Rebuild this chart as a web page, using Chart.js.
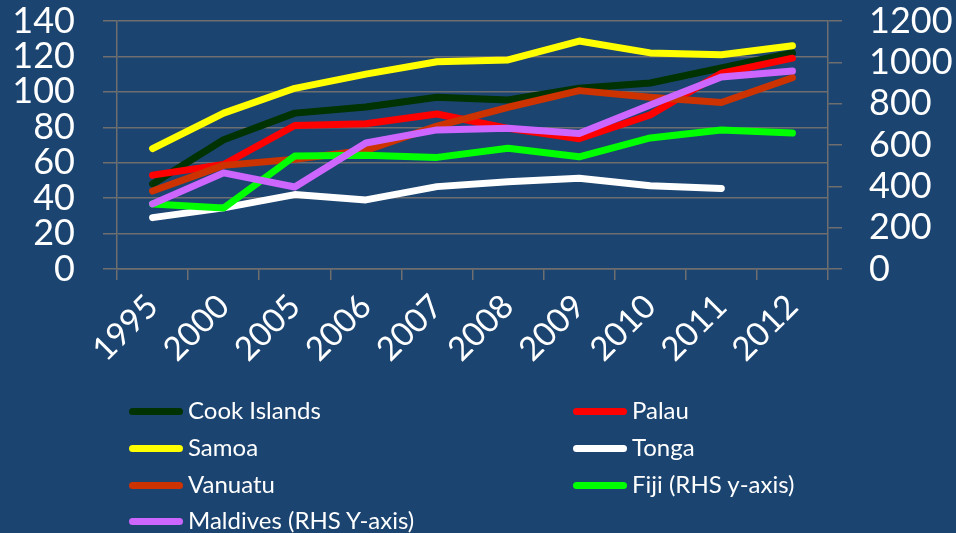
<!doctype html>
<html>

<head>
    <title>Pacific islands</title>
    <script src="https://cdn.jsdelivr.net/npm/chart.js@4.4.1/dist/chart.umd.min.js"></script>
    <style>
    html, body {
        margin: 0;
        padding: 0;
        background: #1b4470;
    }
    #wrap {
        position: relative;
        width: 956px;
        height: 533px;
    }
    #legend {
        position: absolute;
        left: 0;
        top: 0;
        width: 956px;
        height: 533px;
        pointer-events: none;
        font-family: Lato, "Open Sans", sans-serif;
        font-size: 24px;
        color: #ffffff;
    }
    .item {
        position: absolute;
        height: 26px;
        line-height: 26px;
        white-space: nowrap;
    }
    .swatch {
        display: inline-block;
        width: 54px;
        height: 7px;
        border-radius: 4px;
        vertical-align: middle;
        margin-right: 5px;
        margin-top: -3px;
    }
    </style>
</head>

<body>
    <div id="wrap">
        <canvas id="canvas" width="956" height="533"></canvas>
        <div id="legend"></div>
    </div>
    <script>
        var YEARS = ['1995', '2000', '2005', '2006', '2007', '2008', '2009', '2010', '2011', '2012'];
        var COOK = [48, 73, 88, 91.5, 97, 95.4, 102, 105, 113.5, 122];
        var PALAU = [53, 59, 81, 82, 87.5, 79.4, 73.5, 87, 110.5, 119];
        var SAMOA = [68, 88, 102, 110, 117, 118, 128.7, 122, 121, 126];
        var TONGA = [29, 34.5, 42, 39, 46.5, 49.3, 51.2, 47, 45.5, null];
        var VANUATU = [44, 58.5, 62, 67, 80.7, 91.3, 100.7, 97, 94, 108];
        var FIJI = [315, 295, 547, 550, 540, 584, 543, 634, 673, 658];      // RHS axis
        var MALDIVES = [315, 465, 397, 610, 673, 681, 656, 794, 929, 958];  // RHS axis

        var gridCol = '#6e6e6e';
        var tickFont = { family: 'Lato, "Open Sans", sans-serif', size: 36 };

        function series(label, data, col, axis, ord) {
            return {
                label: label,
                data: data,
                borderColor: col,
                backgroundColor: col,
                borderWidth: 7,
                borderCapStyle: 'round',
                borderJoinStyle: 'round',
                pointRadius: 0,
                tension: 0,
                yAxisID: axis,
                order: ord
            };
        }

        var chartData = {
            labels: YEARS,
            datasets: [
                series('Cook Islands', COOK, '#013201', 'y', 7),
                series('Palau', PALAU, '#ff0000', 'y', 6),
                series('Samoa', SAMOA, '#ffff00', 'y', 5),
                series('Tonga', TONGA, '#ffffff', 'y', 4),
                series('Vanuatu', VANUATU, '#cc3300', 'y', 3),
                series('Fiji (RHS y-axis)', FIJI, '#00ff00', 'y1', 2),
                series('Maldives (RHS Y-axis)', MALDIVES, '#cc66ff', 'y1', 1)
            ]
        };

        function plain(v) { return String(v); }
        // fixed box sizes so the plot area lands where the original one is
        function fixW(w) {
            return function(s) {
                s.width = w;
                s.paddingTop = 0;
                s.paddingBottom = 0;
            };
        }

        var ctx = document.getElementById("canvas").getContext("2d");
        window.myLine = new Chart(ctx, {
            type: 'line',
            data: chartData,
            options: {
                responsive: false,
                animation: false,
                layout: { padding: { top: 21, bottom: 148 } },
                plugins: {
                    legend: { display: false },
                    tooltip: { enabled: false }
                },
                scales: {
                    x: {
                        offset: true,
                        grid: {
                            offset: true,
                            drawOnChartArea: false,
                            color: gridCol,
                            tickLength: 11,
                            lineWidth: 1.5
                        },
                        border: { color: gridCol, width: 1.5 },
                        ticks: {
                            color: '#ffffff',
                            font: { family: tickFont.family, size: 33 },
                            minRotation: 45,
                            maxRotation: 45,
                            autoSkip: false,
                            padding: 7
                        },
                        afterFit: function(s) {
                            s.height = 116;
                            s.paddingLeft = 0;
                            s.paddingRight = 0;
                        }
                    },
                    y: {
                        position: 'left',
                        min: 0,
                        max: 140,
                        grid: { color: gridCol, tickLength: 14, lineWidth: 1.5 },
                        border: { color: gridCol, width: 1.5 },
                        ticks: { stepSize: 20, autoSkip: false, color: '#ffffff', font: tickFont, padding: 28, callback: plain },
                        afterFit: fixW(117)
                    },
                    y1: {
                        position: 'right',
                        min: 0,
                        max: 1200,
                        grid: { drawOnChartArea: false, color: gridCol, tickLength: 14, lineWidth: 1.5 },
                        border: { color: gridCol, width: 1.5 },
                        ticks: { stepSize: 200, autoSkip: false, color: '#ffffff', font: tickFont, padding: 27, callback: plain },
                        afterFit: fixW(128)
                    }
                }
            }
        });

        // two column legend under the chart, built from the datasets
        var LEG_X = [129, 573];
        var LEG_Y = [397, 434, 471, 507];
        var leg = document.getElementById('legend');
        chartData.datasets.forEach(function(ds, i) {
            var el = document.createElement('div');
            el.className = 'item';
            el.style.left = LEG_X[i % 2] + 'px';
            el.style.top = LEG_Y[Math.floor(i / 2)] + 'px';
            el.innerHTML = '<span class="swatch" style="background:' + ds.borderColor + '"></span>' + ds.label;
            leg.appendChild(el);
        });
    </script>
</body>

</html>
